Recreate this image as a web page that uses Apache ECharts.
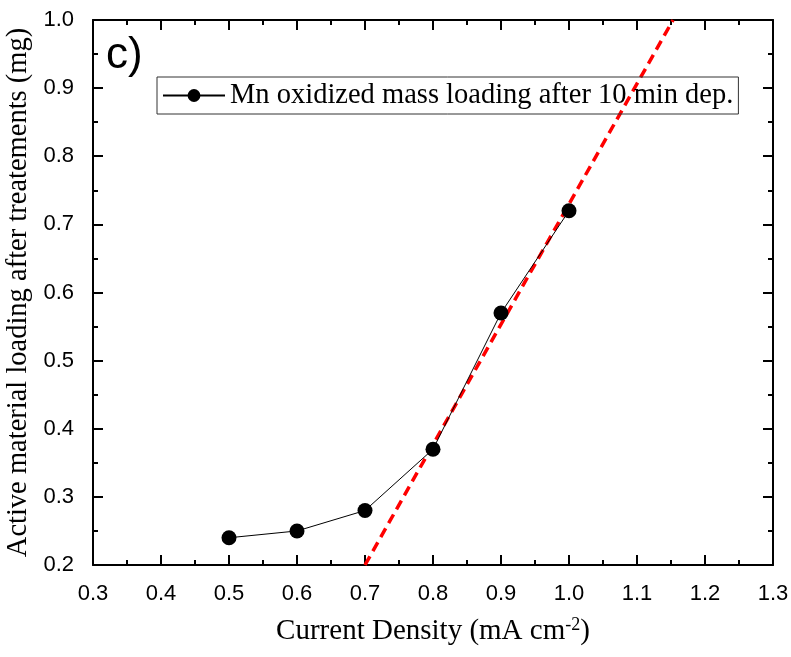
<!DOCTYPE html>
<html>
<head>
<meta charset="utf-8">
<script src="https://cdn.jsdelivr.net/npm/echarts@6/dist/echarts.min.js"></script>
<style>
html, body { margin: 0; padding: 0; background: #fff; }
#chart { width: 791px; height: 657px; }
</style>
</head>
<body>
<div id="chart"></div>
<script>
// data
let currentDensity = [0.5, 0.6, 0.7, 0.8, 0.9, 1.0];
let massLoading = [0.24, 0.25, 0.28, 0.37, 0.57, 0.72];
// linear fit (red dashed), end points
let fitX = [0.7, 1.153];
let fitY = [0.2, 1.0];

let seriesName = 'Mn oxidized mass loading after 10 min dep.';
let sans = 'Liberation Sans';
let serif = 'Liberation Serif';

let axisCommon = {
    axisLine: { show: true, onZero: false, lineStyle: { color: '#000', width: 2 } },
    axisTick: { show: true, inside: true, length: 10, lineStyle: { color: '#000', width: 2 } },
    minorTick: { show: true, splitNumber: 2, length: 5, lineStyle: { color: '#000', width: 2 } },
    splitLine: { show: false }
};

let option = {
    animation: false,
    grid: { left: 93, right: 18, top: 20, bottom: 92, containLabel: false, outerBoundsMode: 'none' },
    legend: {
        data: [seriesName],
        left: 157,
        top: 77,
        borderColor: '#333',
        borderWidth: 1,
        padding: [4, 5, 4, 5],
        itemWidth: 62,
        itemHeight: 16,
        itemGap: 6,
        textStyle: { fontFamily: serif, fontSize: 28.5, color: '#000' }
    },
    xAxis: [
        Object.assign({}, axisCommon, {
            type: 'value', min: 0.3, max: 1.3, interval: 0.1,
            position: 'bottom',
            name: 'Current Density (mA cm{sup|-2})',
            nameLocation: 'middle',
            nameGap: 51,
            nameTextStyle: {
                fontFamily: serif, fontSize: 29, color: '#000',
                rich: { sup: { fontFamily: serif, fontSize: 18, color: '#000', verticalAlign: 'top', padding: [0, 0, 12, 0] } }
            },
            axisLabel: {
                margin: 18, fontFamily: sans, fontSize: 22, color: '#000',
                formatter: function (v) { return v.toFixed(1); }
            }
        }),
        Object.assign({}, axisCommon, {
            type: 'value', min: 0.3, max: 1.3, interval: 0.1,
            position: 'top',
            axisLabel: { show: false }
        })
    ],
    yAxis: [
        Object.assign({}, axisCommon, {
            type: 'value', min: 0.2, max: 1.0, interval: 0.1,
            position: 'left',
            name: 'Active material loading after treatements (mg)',
            nameLocation: 'middle',
            nameGap: 59,
            nameTextStyle: { fontFamily: serif, fontSize: 28.5, color: '#000' },
            axisLabel: {
                margin: 19, fontFamily: sans, fontSize: 22, color: '#000',
                formatter: function (v) { return v.toFixed(1); }
            }
        }),
        Object.assign({}, axisCommon, {
            type: 'value', min: 0.2, max: 1.0, interval: 0.1,
            position: 'right',
            axisLabel: { show: false }
        })
    ],
    graphic: [
        {
            type: 'text', left: 106, top: 34,
            style: { text: 'c)', fontFamily: sans, fontSize: 44, fill: '#000' }
        }
    ],
    series: [
        {
            name: 'fit',
            type: 'line',
            data: fitX.map(function (x, i) { return [x, fitY[i]]; }),
            symbol: 'none',
            lineStyle: { color: '#ff0000', width: 3.5, type: [10, 6] },
            z: 3
        },
        {
            name: seriesName,
            type: 'line',
            data: currentDensity.map(function (x, i) { return [x, massLoading[i]]; }),
            symbol: 'circle',
            symbolSize: 15,
            itemStyle: { color: '#000' },
            lineStyle: { color: '#000', width: 1 },
            z: 4
        }
    ]
};

let chart = echarts.init(document.getElementById('chart'));
chart.setOption(option);
</script>
</body>
</html>
